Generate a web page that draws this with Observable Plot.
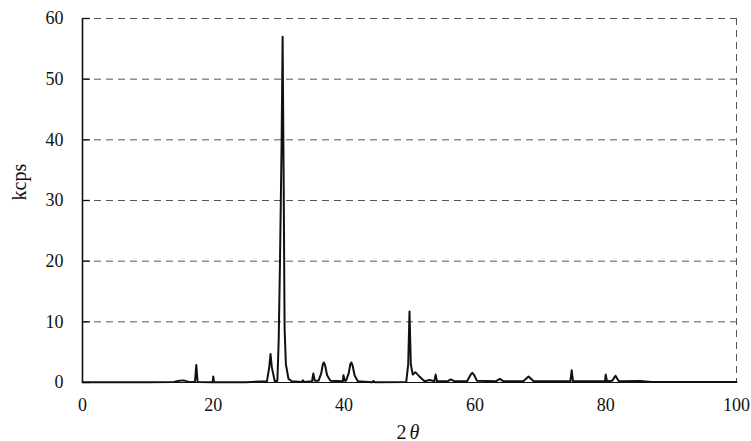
<!DOCTYPE html>
<html><head><meta charset="utf-8">
<script src="https://cdn.jsdelivr.net/npm/d3@7"></script>
<script src="https://cdn.jsdelivr.net/npm/@observablehq/plot@0.6"></script>
<style>body{margin:0;background:#fff}</style>
</head><body><div id="chart"></div>
<script>
const twoTheta = [0,10,14.0,14.8,15.5,16.2,17.2,17.4,17.6,19.9,20.0,20.1,25,28.2,28.55,28.75,28.95,29.4,29.8,30.0,30.2,30.45,30.6,30.75,30.9,31.1,31.5,32.0,33.5,33.7,33.9,35.1,35.3,35.5,36.1,36.5,36.75,36.9,37.1,37.4,37.9,39.8,39.9,40.1,40.3,40.7,40.95,41.1,41.3,41.6,42.1,44.3,44.5,44.7,49.5,49.8,50.0,50.2,50.5,50.9,51.5,52.3,53.1,53.8,54.0,54.2,55.8,56.3,56.9,58.8,59.3,59.6,59.9,60.3,63.2,63.8,64.4,67.4,68.2,69.0,74.6,74.8,75.0,79.9,80.0,80.2,81.0,81.5,82.0,85.3,87,100];
const kcps = [0.05,0.05,0.1,0.3,0.35,0.1,0.1,2.9,0.1,0.05,1.0,0.05,0.05,0.2,2.5,4.7,2.5,0.2,0.3,7,20,40,57,35,9,3,0.6,0.2,0.1,0.35,0.1,0.2,1.5,0.3,0.3,1.5,3.0,3.3,2.8,1.2,0.3,0.2,1.2,0.3,0.3,1.5,3.0,3.3,2.8,1.2,0.2,0.05,0.25,0.05,0.1,3,11.7,3,1.3,1.7,1.0,0.2,0.4,0.2,1.3,0.2,0.2,0.5,0.2,0.2,1.2,1.6,1.2,0.3,0.2,0.6,0.2,0.2,1.0,0.2,0.2,2.0,0.2,0.2,1.3,0.2,0.3,1.1,0.2,0.25,0.1,0.1];
const yTicks = [0,10,20,30,40,50,60];
const xTicks = [0,20,40,60,80,100];
const gridLines = [10,20,30,40,50,60];

const data = twoTheta.map((x,i)=>({x, y: kcps[i]}));

const chart = Plot.plot({
  width: 751, height: 441,
  marginLeft: 82, marginRight: 15, marginTop: 18, marginBottom: 59,
  style: {fontFamily: "'Liberation Serif', serif", fontSize: "18px", color: "#111", background: "#fff"},
  x: {domain: [0,100]},
  y: {domain: [0,60]},
  marks: [
    Plot.ruleY(gridLines, {stroke: "#555", strokeWidth: 1, strokeDasharray: "7,5"}),
    Plot.ruleX([100], {stroke: "#555", strokeWidth: 1, strokeDasharray: "7,5"}),
    Plot.ruleY(yTicks, {y: d=>d, x1: 0, x2: 1.2, stroke: "#111", strokeWidth: 1.3}),
    Plot.ruleX([0], {stroke: "#111", strokeWidth: 1.6}),
    Plot.ruleY([0], {stroke: "#111", strokeWidth: 1.2}),
    Plot.line(data, {x: "x", y: "y", stroke: "#111", strokeWidth: 2, strokeLinejoin: "round"}),
    Plot.axisY({ticks: yTicks, tickSize: 0, tickPadding: 19, label: null, fontSize: 18}),
    Plot.axisX({ticks: xTicks, tickSize: 0, tickPadding: 16, label: null, fontSize: 18}),
    Plot.text(["kcps"], {frameAnchor: "left", dx: -63, rotate: -90, fontSize: 20}),
    Plot.text(["2"], {frameAnchor: "bottom", dx: -8, dy: 56, fontSize: 20}),
    Plot.text(["θ"], {frameAnchor: "bottom", dx: 5, dy: 56, fontStyle: "italic", fontSize: 20})
  ]
});
document.getElementById("chart").appendChild(chart);
</script></body></html>
